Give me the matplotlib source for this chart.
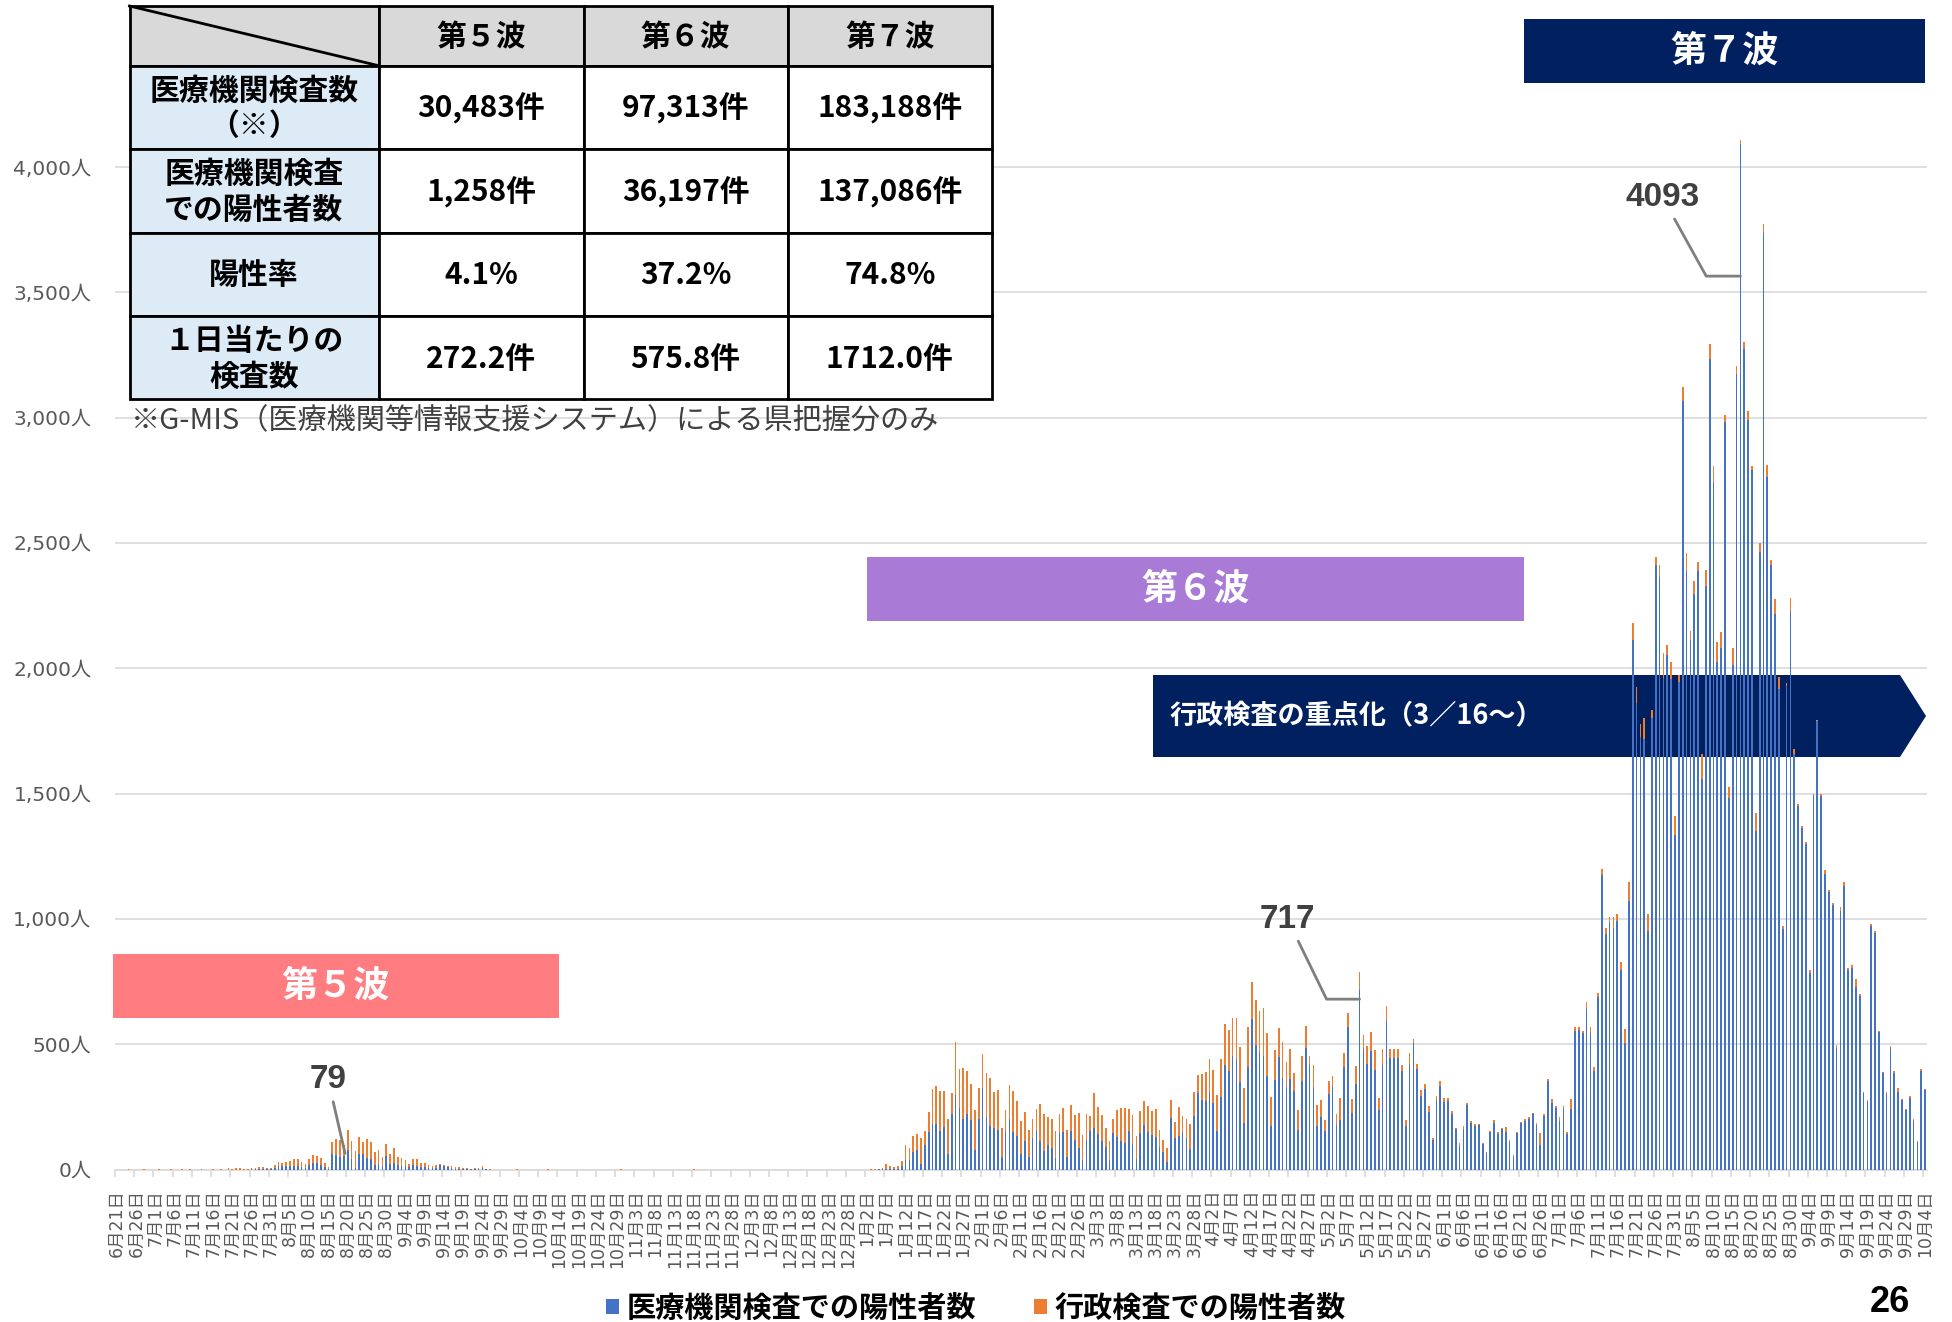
import matplotlib
matplotlib.use('Agg')
import matplotlib.pyplot as plt
from matplotlib.patches import Rectangle, Polygon, Patch
from matplotlib.lines import Line2D
import numpy as np
import pandas as pd

JP = ['Noto Sans CJK JP', 'DejaVu Sans']
NUM = ['DejaVu Sans', 'Noto Sans CJK JP']

# 日別陽性者数（2021/6/21 ～ 2022/10/4）
start_date = '2021-06-21'

# 医療機関検査での陽性者数
med_wave5 = [
    0, 0, 0, 0, 0, 0, 0, 0, 0, 0,
    0, 0, 0, 0, 0, 0, 0, 0, 0, 0,
    0, 0, 0, 0, 0, 0, 0, 0, 0, 0,
    0, 0, 0, 0, 0, 1, 1, 2, 2, 2,
    1, 4, 13, 13, 15, 15, 15, 15, 11, 7,
    19, 24, 24, 17, 11, 3, 63, 59, 50, 52,
    79, 43, 5, 61, 60, 45, 43, 17, 21, 13,
    53, 23, 24, 17, 15, 13, 8, 16, 13, 11,
    8, 5, 4, 7, 16, 12, 8, 5, 3, 3,
    1, 1, 1, 1, 1, 4, 1, 0, 0, 0,
]
med_quiet = [
    0, 0, 0, 0, 0, 0, 0, 0, 0, 0, 0, 0,
    0, 0, 0, 0, 0, 0, 0, 0, 0, 0, 0, 0,
    0, 0, 0, 0, 0, 0, 0, 0, 0, 0, 0, 0,
    0, 0, 0, 0, 0, 0, 0, 0, 0, 0, 0, 0,
    0, 0, 0, 0, 0, 0, 0, 0, 0, 0, 0, 0,
    0, 0, 0, 0, 0, 0, 0, 0, 0, 0, 0, 0,
    0, 0, 0, 0, 0, 0, 0, 0, 0, 0, 0, 0,
    0, 0, 0, 0, 0, 0, 0, 0, 0, 0, 0, 0,
]
med_wave6 = [
    0, 0, 1, 2,
    3, 2, 2, 3, 15, 37, 37, 70, 76, 21,
    97, 150, 182, 182, 154, 169, 63, 223, 297, 247,
    202, 222, 196, 77, 202, 326, 210, 173, 165, 157,
    49, 153, 202, 149, 132, 63, 113, 48, 126, 157,
    113, 74, 97, 85, 45, 146, 149, 49, 153, 117,
    86, 37, 117, 153, 164, 141, 113, 89, 37, 145,
    130, 113, 106, 153, 101, 40, 146, 178, 149, 138,
    130, 88, 68, 31, 205, 125, 134, 149, 126, 81,
    214, 306, 278, 273, 310, 266, 153, 290, 416, 392,
    452, 442, 350, 186, 408, 602, 495, 469, 452, 374,
    173, 358, 447, 367, 329, 360, 313, 158, 352, 485,
    418, 330, 175, 211, 155, 303, 328, 178, 198, 409,
    570, 225, 342, 717, 480, 420, 472, 398, 239, 417,
    592, 445, 445, 443, 392, 174, 416, 503, 401, 294,
    322, 231, 119, 278, 332, 271, 274, 221, 162, 95,
    163, 257, 187, 174, 178, 102, 67, 151, 187, 142,
    160, 151, 111, 48, 144, 185, 195, 203, 221, 178,
    98, 215, 354, 267, 246, 195, 242, 142, 241,
]
med_wave7 = [
    554,
    558, 544, 641, 546, 392, 687, 1176, 938, 987, 965,
    992, 795, 505, 1073, 2114, 1862, 1727, 1716, 951, 1803,
    2411, 2365, 1962, 2054, 1957, 1335, 1946, 3065, 2390, 2111,
    2295, 2390, 1560, 2330, 3236, 2744, 2027, 2081, 2984, 1484,
    2014, 3173, 4093, 3276, 2992, 2790, 1352, 2465, 3736, 2763,
    2411, 2217, 1919, 960, 1930, 2227, 1660, 1449, 1362, 1300,
    784, 1495, 1790, 1490, 1181, 1106, 1057, 484, 1033, 1133,
    795, 805, 727, 694, 306, 271, 970, 945, 549, 384,
    303, 484, 387, 311, 276, 236, 287, 195, 110, 392, 316,
]

# 行政検査での陽性者数
adm_wave5 = [
    0, 0, 0, 1, 0, 0, 0, 3, 0, 0,
    0, 1, 0, 0, 1, 0, 0, 2, 0, 1,
    0, 0, 1, 0, 0, 2, 0, 1, 0, 5,
    1, 4, 4, 1, 2, 6, 4, 7, 7, 5,
    4, 13, 15, 11, 16, 20, 25, 26, 17, 13,
    21, 33, 29, 27, 13, 7, 45, 61, 67, 47,
    77, 70, 68, 70, 48, 78, 68, 54, 56, 38,
    47, 37, 61, 34, 29, 24, 13, 25, 27, 16,
    16, 12, 9, 9, 4, 5, 7, 8, 6, 6,
    3, 3, 2, 4, 4, 9, 2, 1, 0, 0,
]
adm_quiet = [
    0, 0, 0, 0, 1, 0, 0, 0, 0, 0, 0, 0,
    1, 0, 0, 0, 0, 0, 0, 0, 0, 0, 0, 0,
    0, 0, 0, 0, 0, 0, 0, 1, 0, 0, 0, 0,
    0, 0, 0, 0, 0, 0, 0, 0, 0, 0, 0, 0,
    0, 0, 1, 0, 0, 0, 0, 0, 0, 0, 0, 0,
    0, 0, 0, 0, 0, 0, 0, 0, 0, 0, 0, 0,
    0, 0, 0, 0, 0, 0, 0, 0, 0, 0, 0, 0,
    0, 0, 0, 0, 0, 0, 0, 0, 0, 0, 0, 0,
]
adm_wave6 = [
    1, 2, 2, 3,
    18, 11, 7, 10, 18, 59, 47, 63, 64, 104,
    57, 81, 141, 152, 159, 144, 138, 84, 211, 156,
    202, 170, 144, 160, 124, 134, 177, 191, 146, 162,
    116, 84, 137, 165, 141, 129, 118, 110, 77, 85,
    150, 148, 113, 118, 108, 77, 98, 109, 106, 101,
    141, 100, 105, 62, 141, 110, 106, 75, 76, 56,
    108, 134, 141, 88, 117, 92, 89, 96, 106, 95,
    111, 70, 49, 53, 73, 64, 117, 65, 75, 100,
    95, 70, 105, 117, 132, 130, 144, 152, 164, 164,
    153, 162, 137, 139, 159, 148, 183, 163, 194, 170,
    118, 118, 118, 141, 99, 119, 74, 81, 100, 87,
    34, 87, 83, 67, 43, 51, 44, 44, 87, 54,
    53, 57, 72, 72, 55, 72, 78, 77, 46, 64,
    60, 36, 36, 36, 25, 24, 49, 18, 21, 22,
    20, 24, 8, 16, 22, 14, 11, 13, 5, 12,
    11, 8, 7, 8, 4, 4, 3, 4, 12, 6,
    7, 19, 8, 8, 4, 4, 6, 6, 4, 9,
    46, 6, 8, 14, 9, 15, 12, 6, 41,
]
adm_wave7 = [
    14,
    10, 10, 27, 22, 19, 16, 24, 27, 19, 41,
    27, 35, 55, 76, 65, 63, 49, 87, 68, 32,
    33, 46, 98, 38, 68, 76, 27, 57, 70, 38,
    54, 35, 100, 62, 59, 64, 79, 65, 27, 43,
    67, 35, 16, 27, 33, 18, 72, 35, 35, 48,
    22, 59, 46, 10, 13, 54, 16, 8, 8, 8,
    13, 5, 5, 7, 14, 8, 8, 13, 13, 13,
    8, 11, 35, 6, 5, 5, 8, 6, 5, 5,
    5, 8, 5, 13, 5, 5, 8, 5, 4, 11, 6,
]

legend_labels = ['医療機関検査での陽性者数', '行政検査での陽性者数']

# 表
table_cols = ['第５波', '第６波', '第７波']
table_rows = ['医療機関検査数\n（※）', '医療機関検査\nでの陽性者数', '陽性率', '１日当たりの\n検査数']
table_vals = [
    ['30,483件', '97,313件', '183,188件'],
    ['1,258件', '36,197件', '137,086件'],
    ['4.1%', '37.2%', '74.8%'],
    ['272.2件', '575.8件', '1712.0件'],
]
table_note = '※G-MIS（医療機関等情報支援システム）による県把握分のみ'

med = np.array(med_wave5 + med_quiet + med_wave6 + med_wave7)
adm = np.array(adm_wave5 + adm_quiet + adm_wave6 + adm_wave7)
assert len(med) == len(adm) == 471
dates = pd.date_range(start_date, periods=len(med))
n = len(med)
x = np.arange(n)

BLUE = '#4472C4'
ORANGE = '#ED7D31'
NAVY = '#002060'
GRID = '#D9D9D9'

W, H = 1952, 1322
fig = plt.figure(figsize=(W / 100, H / 100), dpi=100)
fig.patch.set_facecolor('white')


def fx(px):
    return px / W


def fy(py):
    return 1 - py / H


ax = fig.add_axes([fx(115), fy(1169.5), 1812 / W, (1169.5 - 41.8) / H])

ax.bar(x, med, width=0.45, color=BLUE, zorder=3)
ax.bar(x, adm, bottom=med, width=0.45, color=ORANGE, zorder=3)

ax.set_xlim(-0.5, n - 0.5)
ax.set_ylim(0, 4500)
yt = np.arange(0, 4001, 500)
ax.set_yticks(yt)
ax.set_yticklabels([f'{v:,}人' for v in yt], fontfamily=NUM, fontsize=14.5, color='#595959')
ax.tick_params(axis='y', length=0, pad=17)
ax.yaxis.grid(True, color=GRID, lw=1.2, zorder=0)
ax.set_axisbelow(True)
for s in ['left', 'right', 'top']:
    ax.spines[s].set_visible(False)
ax.spines['bottom'].set_color(GRID)
ax.spines['bottom'].set_linewidth(1.2)

ax.set_xticks(x[::5])
ax.set_xticklabels([f'{d.month}月{d.day}日' for d in dates[::5]],
                   rotation=90, fontfamily=NUM, fontsize=12.5, color='#595959')
ax.set_xticks(np.arange(-0.5, n, 5), minor=True)
ax.tick_params(axis='x', which='major', length=0, pad=14)
ax.tick_params(axis='x', which='minor', length=5, color=GRID, width=1.2)


def banner(x0, y0, x1, y1, color, label, size=26):
    ax.add_patch(Rectangle((fx(x0), fy(y1)), (x1 - x0) / W, (y1 - y0) / H,
                           transform=fig.transFigure, facecolor=color,
                           edgecolor='none', zorder=2, clip_on=False))
    ax.text(fx((x0 + x1) / 2), fy((y0 + y1) / 2), label, transform=fig.transFigure,
            ha='center', va='center', color='white', fontsize=size,
            fontweight='bold', fontfamily=JP, zorder=2.5, clip_on=False)


banner(113, 954, 559, 1018, '#FF7C80', '第５波')
banner(867, 557, 1524, 621, '#A97BD7', '第６波')
banner(1524, 19, 1925, 83, NAVY, '第７波')

# 行政検査の重点化 矢印
arrow_pts = [(1153, 675), (1900, 675), (1926, 716), (1900, 757), (1153, 757)]
ax.add_patch(Polygon([(fx(a), fy(b)) for a, b in arrow_pts], closed=True,
                     transform=fig.transFigure, facecolor=NAVY, edgecolor='none',
                     zorder=2, clip_on=False))
ax.text(fx(1170), fy(716), '行政検査の重点化（3／16～）', transform=fig.transFigure,
        ha='left', va='center', color='white', fontsize=19.5, fontweight='bold',
        fontfamily=JP, zorder=2.5)

# 各波の最大値ラベル
seg5 = np.argmax(med[:100])
seg6 = 196 + np.argmax(med[196:379])
seg7 = 379 + np.argmax(med[379:])
ann_style = dict(textcoords='offset pixels', ha='center', va='center',
                 fontsize=24, fontweight='bold', color='#404040',
                 fontfamily='Liberation Sans', zorder=5)
ax.annotate(str(med[seg5]), xy=(seg5 - 0.7, med[seg5] * 0.81), xytext=(-17, 74),
            arrowprops=dict(arrowstyle='-', color='#7F7F7F', lw=2,
                            shrinkA=3, shrinkB=0), **ann_style)
ax.annotate(str(med[seg6]), xy=(seg6, med[seg6] * 0.948), xytext=(-72, 80),
            arrowprops=dict(arrowstyle='-', color='#7F7F7F', lw=2, shrinkA=3, shrinkB=0,
                            connectionstyle='angle,angleA=-64,angleB=0,rad=0'),
            **ann_style)
ax.annotate(str(med[seg7]), xy=(seg7, med[seg7] * 0.871), xytext=(-78, 79),
            arrowprops=dict(arrowstyle='-', color='#7F7F7F', lw=2, shrinkA=3, shrinkB=0,
                            connectionstyle='angle,angleA=-61,angleB=0,rad=0'),
            **ann_style)

# 表
col_edges = [129.5, 378.6, 583.5, 787.7, 992]
row_edges = [6, 65.7, 149, 232.7, 316, 399.3]
cells = [[''] + table_cols] + [[r] + v for r, v in zip(table_rows, table_vals)]
for r in range(5):
    for c in range(4):
        if r == 0:
            fc = '#D9D9D9'
        elif c == 0:
            fc = '#DDEBF7'
        else:
            fc = 'white'
        x0, x1 = col_edges[c], col_edges[c + 1]
        y0, y1 = row_edges[r], row_edges[r + 1]
        fig.add_artist(Rectangle((fx(x0), fy(y1)), (x1 - x0) / W, (y1 - y0) / H,
                                 transform=fig.transFigure, facecolor=fc,
                                 edgecolor='black', lw=2, zorder=10))
        if cells[r][c]:
            fig.text(fx((x0 + x1) / 2), fy((y0 + y1) / 2 + 1), cells[r][c],
                     ha='center', va='center', fontsize=21.5, fontweight='bold',
                     fontfamily=JP, color='black', linespacing=1.25, zorder=11)
fig.add_artist(Line2D([fx(col_edges[0]), fx(col_edges[1])], [fy(row_edges[0]), fy(row_edges[1])],
                      transform=fig.transFigure, color='black', lw=2, zorder=11))
fig.text(fx(131), fy(421), table_note, ha='left', va='center', fontsize=21,
         fontfamily=JP, color='#404040', zorder=11)

# 凡例
handles = [Patch(facecolor=BLUE), Patch(facecolor=ORANGE)]
fig.legend(handles, legend_labels, loc='center', bbox_to_anchor=(fx(976), fy(1308)),
           ncol=2, frameon=False, handlelength=0.45, handleheight=0.45,
           handletextpad=0.25, columnspacing=2.0, borderpad=0,
           prop={'family': JP, 'size': 21, 'weight': 'bold'})

fig.text(fx(1890), fy(1302), '26', ha='center', va='center', fontsize=26,
         fontweight='bold', fontfamily='Liberation Sans', color='black')

fig.savefig('out.png', dpi=100, facecolor='white')
